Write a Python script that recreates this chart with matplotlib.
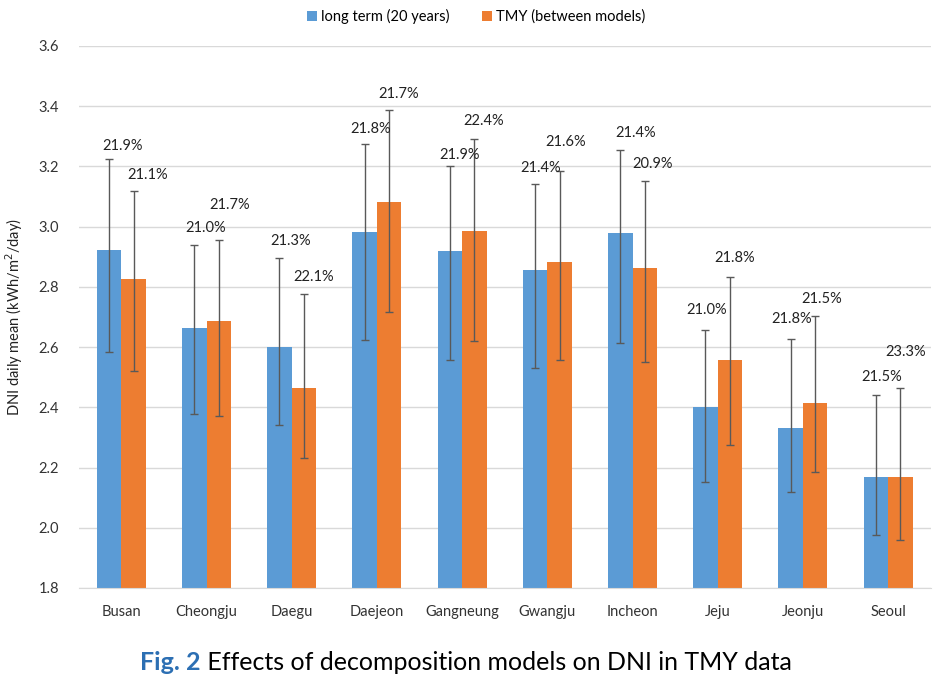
import numpy as np
import matplotlib
matplotlib.use('Agg')
import matplotlib.pyplot as plt

plt.rcParams['font.family'] = ['Lato', 'DejaVu Sans']

# DATA
cities = ['Busan', 'Cheongju', 'Daegu', 'Daejeon', 'Gangneung',
          'Gwangju', 'Incheon', 'Jeju', 'Jeonju', 'Seoul']
long_term = [2.924, 2.665, 2.599, 2.981, 2.919, 2.856, 2.979, 2.401, 2.331, 2.167]
lt_hi = [3.224, 2.938, 2.897, 3.273, 3.200, 3.143, 3.253, 2.658, 2.627, 2.442]
lt_lo = [2.585, 2.378, 2.341, 2.623, 2.558, 2.532, 2.614, 2.153, 2.119, 1.975]
tmy = [2.825, 2.688, 2.464, 3.083, 2.987, 2.883, 2.863, 2.557, 2.413, 2.170]
tmy_hi = [3.117, 2.954, 2.777, 3.389, 3.290, 3.184, 3.150, 2.834, 2.703, 2.464]
tmy_lo = [2.522, 2.370, 2.232, 2.717, 2.621, 2.558, 2.549, 2.275, 2.185, 1.959]
lt_pct = ['21.9%', '21.0%', '21.3%', '21.8%', '21.9%', '21.4%', '21.4%', '21.0%', '21.8%', '21.5%']
tmy_pct = ['21.1%', '21.7%', '22.1%', '21.7%', '22.4%', '21.6%', '20.9%', '21.8%', '21.5%', '23.3%']

# label lift (pixels above error cap) - tweaked where labels would clash
lt_lift = [13, 17, 17, 15, 11, 16, 17, 20, 20, 18]
tmy_lift = [16, 35, 17, 16, 18, 29, 17, 19, 17, 36]
lt_dx = [14, 11, 11, 6, 10, 6, 15, 1, 1, 6]
tmy_dx = [14, 11, 10, 9, 9, 6, 8, 5, 6, 5]

blue = '#5B9BD5'
orange = '#ED7D31'
ecol = '#595959'

fig = plt.figure(figsize=(9.43, 6.8), dpi=100)
ax = fig.add_axes([0.0835, 0.1353, 0.9035, 0.7971])

x = np.arange(len(cities))
w = 0.288
lt = np.array(long_term)
tm = np.array(tmy)
ax.bar(x - w/2, lt, w, bottom=0, color=blue, label='long term (20 years)', zorder=2)
ax.bar(x + w/2, tm, w, color=orange, label='TMY (between models)', zorder=2)
ax.errorbar(x - w/2, lt, yerr=[lt - np.array(lt_lo), np.array(lt_hi) - lt],
            fmt='none', ecolor=ecol, elinewidth=1, capsize=3, capthick=1, zorder=3)
ax.errorbar(x + w/2, tm, yerr=[tm - np.array(tmy_lo), np.array(tmy_hi) - tm],
            fmt='none', ecolor=ecol, elinewidth=1, capsize=3, capthick=1, zorder=3)

for i in range(len(cities)):
    ax.annotate(lt_pct[i], (x[i] - w/2, lt_hi[i]), xytext=(lt_dx[i], lt_lift[i]),
                textcoords='offset pixels', ha='center', va='center', fontsize=10.5, color='#222222')
    ax.annotate(tmy_pct[i], (x[i] + w/2, tmy_hi[i]), xytext=(tmy_dx[i], tmy_lift[i]),
                textcoords='offset pixels', ha='center', va='center', fontsize=10.5, color='#222222')

ax.set_ylim(1.8, 3.6)
ax.set_xlim(-0.5, len(cities) - 0.5)
ax.set_yticks(np.arange(1.8, 3.61, 0.2))
ax.set_yticklabels(['%.1f' % v for v in np.arange(1.8, 3.61, 0.2)])
ax.set_xticks(x)
ax.set_xticklabels(cities)
ax.tick_params(length=0, labelsize=10.5, labelcolor='#333333')
ax.tick_params(axis='x', pad=12)
ax.tick_params(axis='y', pad=14)
ax.grid(axis='y', color='#d9d9d9', linewidth=1, zorder=0)
ax.set_axisbelow(True)
for s in ['top', 'right', 'left']:
    ax.spines[s].set_visible(False)
ax.spines['bottom'].set_color('#d9d9d9')
ax.set_ylabel('DNI daily mean (kWh/m$^2$/day)', fontsize=10.5, color='#222222', labelpad=10)

fig.legend(loc='center', bbox_to_anchor=(0.505, 0.976), ncol=2, frameon=False,
           fontsize=10.5, handlelength=0.7, handleheight=0.7, handletextpad=0.3,
           columnspacing=2.2)

# caption
fig.canvas.draw()
r = fig.canvas.get_renderer()
t1 = fig.text(0, 0.026, 'Fig. 2', fontsize=18, fontweight='bold', color='#2C6FB3', va='center')
t2 = fig.text(0, 0.026, ' Effects of decomposition models on DNI in TMY data', fontsize=18,
              color='black', va='center')
w1 = t1.get_window_extent(r).width
w2 = t2.get_window_extent(r).width
start = (466 - (w1 + w2) / 2) / fig.bbox.width
t1.set_x(start)
t2.set_x(start + w1 / fig.bbox.width)

fig.savefig('out.png', dpi=100)
